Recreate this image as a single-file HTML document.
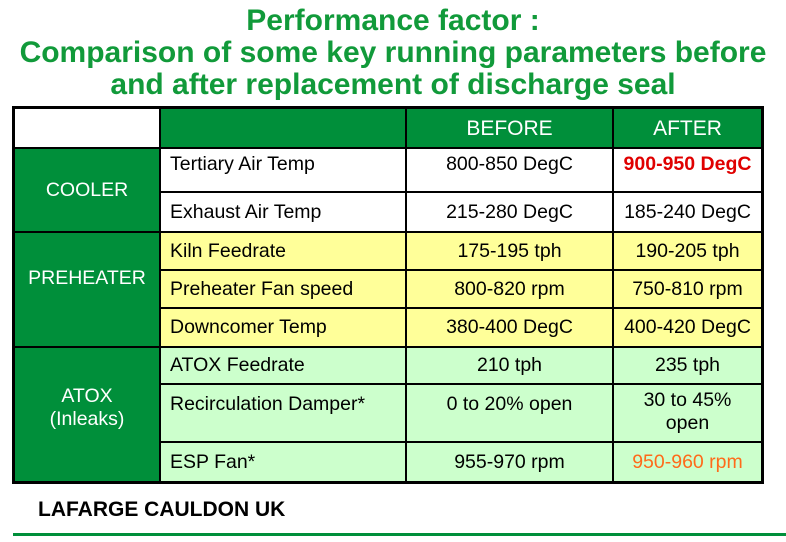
<!DOCTYPE html>
<html><head><meta charset="utf-8"><style>
body{margin:0;width:786px;height:542px;background:#fff;font-family:"Liberation Sans",Arial,sans-serif;position:relative;overflow:hidden}
.t{position:absolute;left:-7px;width:800px;text-align:center;color:#119a3a;font-weight:bold;font-size:30px;line-height:32px}
.tbl{position:absolute;left:12px;top:106px;width:746px;height:372px;border:3px solid #000;background:#000}
.c{position:absolute;box-sizing:border-box;border-right:2px solid #000;border-bottom:2px solid #000;display:flex;align-items:center;justify-content:center;text-align:center;font-size:19.5px;color:#000;line-height:23px}
.l{justify-content:flex-start;padding-left:9px;text-align:left}
.g{background:#008f3a;color:#fff}
.w{background:#fff}.y{background:#ffff99}.lg{background:#ccffcc}
</style></head><body>
<div class="t" style="top:5px">Performance factor :</div>
<div class="t" style="top:37px">Comparison of some key running parameters before</div>
<div class="t" style="top:69px">and after replacement of discharge seal</div>
<div class="tbl">
<div class="c w" style="left:0;top:0;width:146px;height:40px"></div>
<div class="c g" style="left:146px;top:0;width:246px;height:40px"></div>
<div class="c g" style="left:392px;top:0;width:207px;height:40px;font-size:21px">BEFORE</div>
<div class="c g" style="left:599px;top:0;width:147px;height:40px;font-size:21px;border-right:none">AFTER</div>

<div class="c g" style="left:0;top:40px;width:146px;height:84px">COOLER</div>
<div class="c g" style="left:0;top:124px;width:146px;height:115px;padding-bottom:22px">PREHEATER</div>
<div class="c g" style="left:0;top:239px;width:146px;height:133px;border-bottom:none;padding-bottom:14px">ATOX<br>(Inleaks)</div>

<div class="c w l" style="left:146px;top:40px;width:246px;height:44px;align-items:flex-start;padding-top:4px">Tertiary Air Temp</div>
<div class="c w" style="left:392px;top:40px;width:207px;height:44px;align-items:flex-start;padding-top:4px">800-850 DegC</div>
<div class="c w" style="left:599px;top:40px;width:147px;height:44px;border-right:none;align-items:flex-start;padding-top:4px;color:#e00000;font-weight:bold">900-950 DegC</div>

<div class="c w l" style="left:146px;top:84px;width:246px;height:40px">Exhaust Air Temp</div>
<div class="c w" style="left:392px;top:84px;width:207px;height:40px">215-280 DegC</div>
<div class="c w" style="left:599px;top:84px;width:147px;height:40px;border-right:none">185-240 DegC</div>

<div class="c y l" style="left:146px;top:124px;width:246px;height:38px">Kiln Feedrate</div>
<div class="c y" style="left:392px;top:124px;width:207px;height:38px">175-195 tph</div>
<div class="c y" style="left:599px;top:124px;width:147px;height:38px;border-right:none">190-205 tph</div>

<div class="c y l" style="left:146px;top:162px;width:246px;height:38px">Preheater Fan speed</div>
<div class="c y" style="left:392px;top:162px;width:207px;height:38px">800-820 rpm</div>
<div class="c y" style="left:599px;top:162px;width:147px;height:38px;border-right:none">750-810 rpm</div>

<div class="c y l" style="left:146px;top:200px;width:246px;height:39px">Downcomer Temp</div>
<div class="c y" style="left:392px;top:200px;width:207px;height:39px">380-400 DegC</div>
<div class="c y" style="left:599px;top:200px;width:147px;height:39px;border-right:none">400-420 DegC</div>

<div class="c lg l" style="left:146px;top:239px;width:246px;height:37px">ATOX Feedrate</div>
<div class="c lg" style="left:392px;top:239px;width:207px;height:37px">210 tph</div>
<div class="c lg" style="left:599px;top:239px;width:147px;height:37px;border-right:none">235 tph</div>

<div class="c lg l" style="left:146px;top:276px;width:246px;height:58px;align-items:flex-start;padding-top:8px">Recirculation Damper*</div>
<div class="c lg" style="left:392px;top:276px;width:207px;height:58px;align-items:flex-start;padding-top:8px">0 to 20% open</div>
<div class="c lg" style="left:599px;top:276px;width:147px;height:58px;border-right:none;padding-bottom:2px">30 to 45%<br>open</div>

<div class="c lg l" style="left:146px;top:334px;width:246px;height:38px;border-bottom:none">ESP Fan*</div>
<div class="c lg" style="left:392px;top:334px;width:207px;height:38px;border-bottom:none">955-970 rpm</div>
<div class="c lg" style="left:599px;top:334px;width:147px;height:38px;border:none;color:#ff6a1a">950-960 rpm</div>
</div>
<div style="position:absolute;left:38px;top:498px;font-size:21px;font-weight:bold;color:#000">LAFARGE CAULDON UK</div>
<div style="position:absolute;left:13px;top:533px;width:773px;height:3px;background:#008f3a"></div>
</body></html>
